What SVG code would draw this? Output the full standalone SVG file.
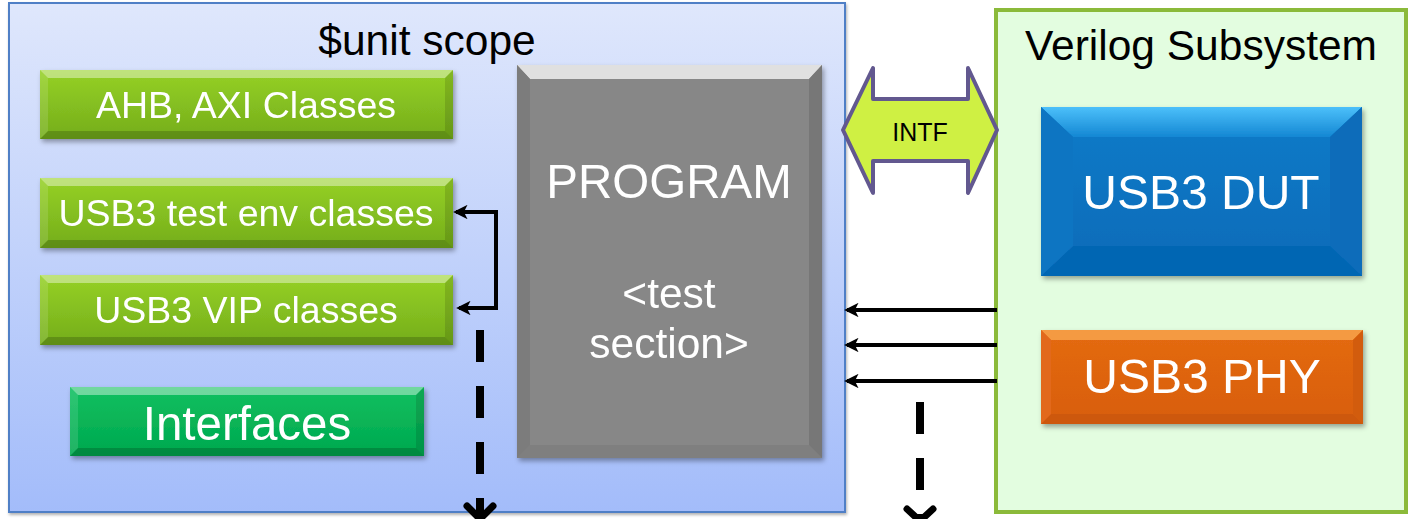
<svg xmlns="http://www.w3.org/2000/svg" width="1412" height="519" viewBox="0 0 1412 519">
<style>
.t{font-family:"Liberation Sans",Arial,sans-serif;text-anchor:middle}
.w{fill:#fff}
.k{fill:#000}
.hi{fill:#fff;opacity:.4}
.lo{fill:#000;opacity:.18}
.sl{fill:#fff;opacity:.12}
.sr{fill:#000;opacity:.12}
.wire{fill:none;stroke:#000;stroke-width:4}
.dash{fill:none;stroke:#000;stroke-width:8;stroke-dasharray:32 24}
.chev{fill:none;stroke:#000;stroke-width:7;stroke-linecap:round;stroke-linejoin:round}
</style>
<defs>
<linearGradient id="gUnit" x1="0" y1="0" x2="0" y2="1"><stop offset="0" stop-color="#dfe7fc"/><stop offset="1" stop-color="#a3bcfa"/></linearGradient>
<linearGradient id="gGreen" x1="0" y1="0" x2="0" y2="1"><stop offset="0" stop-color="#96d126"/><stop offset="1" stop-color="#74ad1b"/></linearGradient>
<linearGradient id="gIntf" x1="0" y1="0" x2="0" y2="1"><stop offset="0" stop-color="#10c060"/><stop offset="1" stop-color="#00a84e"/></linearGradient>
<linearGradient id="gBlue" x1="0" y1="0" x2="0" y2="1"><stop offset="0" stop-color="#0c7cc9"/><stop offset="1" stop-color="#066ab8"/></linearGradient>
<linearGradient id="gBlueTop" x1="0" y1="0" x2="0" y2="1"><stop offset="0" stop-color="#4cc0fa"/><stop offset="1" stop-color="#1487d3"/></linearGradient>
<linearGradient id="gOrange" x1="0" y1="0" x2="0" y2="1"><stop offset="0" stop-color="#e46a12"/><stop offset="1" stop-color="#d85e0c"/></linearGradient>
<filter id="sh" x="-10%" y="-10%" width="125%" height="130%"><feDropShadow dx="2" dy="3" stdDeviation="2.5" flood-color="#000" flood-opacity="0.35"/></filter>
<filter id="shs" x="-10%" y="-50%" width="120%" height="200%"><feDropShadow dx="1" dy="2" stdDeviation="1.5" flood-color="#000" flood-opacity="0.3"/></filter>
<marker id="ah" viewBox="0 0 10 10" refX="8" refY="5" markerWidth="4.2" markerHeight="3.6" orient="auto-start-reverse" markerUnits="strokeWidth"><path d="M0,0 L10,5 L0,10 L2.5,5 Z" fill="#000"/></marker>
</defs>

<g id="unit-scope">
<rect x="9" y="3" width="836" height="509" fill="url(#gUnit)" stroke="#4f7fc6" stroke-width="2" filter="url(#shs)"/>
<text class="t k" x="427" y="55" font-size="42.5">$unit scope</text>
</g>

<g id="verilog-subsystem">
<rect x="996" y="10" width="410" height="502" fill="#e3fde0" stroke="#8bba3a" stroke-width="4"/>
<text class="t k" x="1201" y="60" font-size="42.5">Verilog Subsystem</text>
</g>

<g id="ahb-axi" filter="url(#sh)">
<rect x="40" y="70" width="413" height="69" fill="url(#gGreen)"/>
<polygon class="hi" points="40,70 453,70 445,78 48,78"/>
<polygon class="lo" points="40,139 453,139 445,131 48,131"/>
<polygon class="sl" points="40,70 48,78 48,131 40,139"/>
<polygon class="sr" points="453,70 445,78 445,131 453,139"/>
<text class="t w" x="246" y="118" font-size="37.5">AHB, AXI Classes</text>
</g>

<g id="usb3-test-env" filter="url(#sh)">
<rect x="40" y="178" width="413" height="70" fill="url(#gGreen)"/>
<polygon class="hi" points="40,178 453,178 445,186 48,186"/>
<polygon class="lo" points="40,248 453,248 445,240 48,240"/>
<polygon class="sl" points="40,178 48,186 48,240 40,248"/>
<polygon class="sr" points="453,178 445,186 445,240 453,248"/>
<text class="t w" x="246" y="226" font-size="37.5">USB3 test env classes</text>
</g>

<g id="usb3-vip" filter="url(#sh)">
<rect x="40" y="275" width="413" height="70" fill="url(#gGreen)"/>
<polygon class="hi" points="40,275 453,275 445,283 48,283"/>
<polygon class="lo" points="40,345 453,345 445,337 48,337"/>
<polygon class="sl" points="40,275 48,283 48,337 40,345"/>
<polygon class="sr" points="453,275 445,283 445,337 453,345"/>
<text class="t w" x="246" y="323" font-size="37.5">USB3 VIP classes</text>
</g>

<g id="interfaces" filter="url(#sh)">
<rect x="70" y="387" width="354" height="69" fill="url(#gIntf)"/>
<polygon class="hi" points="70,387 424,387 416,395 78,395"/>
<polygon class="lo" points="70,456 424,456 416,448 78,448"/>
<polygon class="sl" points="70,387 78,395 78,448 70,456"/>
<polygon class="sr" points="424,387 416,395 416,448 424,456"/>
<text class="t w" x="247" y="440" font-size="47.5">Interfaces</text>
</g>

<g id="program" filter="url(#sh)">
<rect x="517" y="65" width="305" height="393" fill="#878787"/>
<polygon fill="#e0e0e0" points="517,65 822,65 809,79 530,79"/>
<polygon fill="#7f7f7f" points="517,458 822,458 809,445 530,445"/>
<polygon fill="#7b7b7b" points="517,65 530,79 530,445 517,458"/>
<polygon fill="#777777" points="822,65 809,79 809,445 822,458"/>
<text class="t w" x="669" y="198" font-size="47.5">PROGRAM</text>
<text class="t w" x="669" y="308" font-size="42.5">&lt;test</text>
<text class="t w" x="669" y="358" font-size="42.5">section&gt;</text>
</g>

<g id="intf">
<polygon points="843,130 873,68 873,99 968,99 968,68 997,130 968,193 968,161 873,161 873,193" fill="#cff043" stroke="#62588f" stroke-width="4" stroke-linejoin="round"/>
<text class="t k" x="920" y="141" font-size="25">INTF</text>
</g>

<g id="usb3-dut" filter="url(#sh)">
<rect x="1041" y="107" width="321" height="169" fill="url(#gBlue)"/>
<polygon fill="url(#gBlueTop)" points="1041,107 1362,107 1330,137 1073,137"/>
<polygon fill="#0666b3" points="1041,276 1362,276 1330,246 1073,246"/>
<polygon fill="#0b74c2" points="1041,107 1073,137 1073,246 1041,276"/>
<polygon fill="#086cba" points="1362,107 1330,137 1330,246 1362,276"/>
<text class="t w" x="1201" y="209" font-size="48">USB3 DUT</text>
</g>

<g id="usb3-phy" filter="url(#sh)">
<rect x="1041" y="330" width="322" height="94" fill="url(#gOrange)"/>
<polygon fill="#f49a42" points="1041,330 1363,330 1353,340 1051,340"/>
<polygon fill="#cd5809" points="1041,424 1363,424 1353,414 1051,414"/>
<polygon fill="#e2691a" points="1041,330 1051,340 1051,414 1041,424"/>
<polygon fill="#d25c0b" points="1363,330 1353,340 1353,414 1363,424"/>
<text class="t w" x="1202" y="393" font-size="48">USB3 PHY</text>
</g>

<g id="connectors">
<path class="wire" d="M456,212 H496 V308 H459" marker-start="url(#ah)" marker-end="url(#ah)"/>
<path class="wire" d="M997,310 H847" marker-end="url(#ah)"/>
<path class="wire" d="M997,345 H847" marker-end="url(#ah)"/>
<path class="wire" d="M997,381 H847" marker-end="url(#ah)"/>
<path class="dash" d="M480,330 V519"/>
<path class="chev" d="M467,506 L480,519 L493,506"/>
<path class="dash" d="M920,402 V519"/>
<path class="chev" d="M907,509 L920,521 L933,509"/>
</g>
</svg>
